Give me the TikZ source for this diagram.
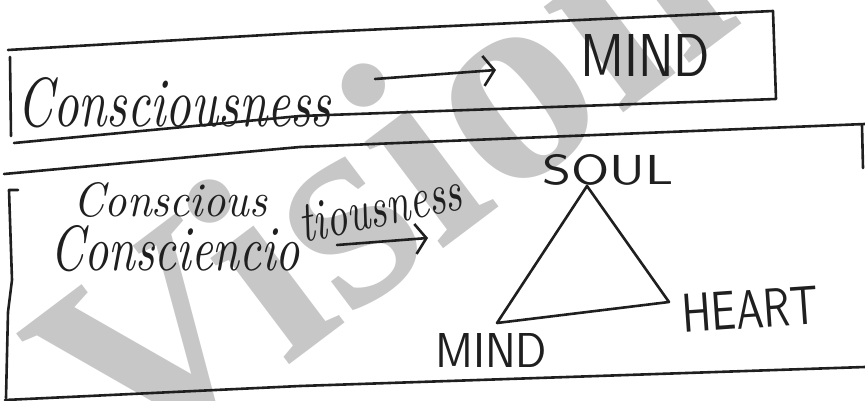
\documentclass[tikz,border=0pt]{standalone}
\usepackage{fontspec}
\newfontfamily\markfont{Liberation Serif}
\usetikzlibrary{arrows.meta}
\newcommand{\handtext}[3]{\resizebox{#1pt}{#2pt}{#3}}

\begin{document}
\begin{tikzpicture}[
    x=1pt, y=-1pt,
    ink/.style={line width=2.6pt, draw=black!88, line cap=round, line join=round},
    inkarrow/.style={ink, -{Straight Barb[length=11pt, width=30pt, line width=2.6pt]}},
    cursive/.style={inner sep=0pt, font=\itshape, text=black!88},
    capsword/.style={inner sep=0pt, font=\sffamily, text=black!88},
    watermark/.style={inner sep=0pt, text=black!22, font=\markfont\bfseries\fontsize{288}{300}\selectfont}
]
\useasboundingbox (0,0) rectangle (865,401);
\clip (0,0) rectangle (865,401);

% watermark
\node[watermark, anchor=base west, rotate=37] (mark) at (127,487) {Vision};

% upper box
\draw[ink] (8,50) -- (300,33) -- (773,11) -- (776,99) -- (300,116) -- (14,143);
\draw[ink] (10,57) -- (11,136);
\node[cursive, anchor=base west] (consA) at (17,127) {\handtext{314}{49}{Consciousness}};
\node[capsword, anchor=base west] (mindA) at (580,77) {\handtext{130}{42}{MIND}};
\coordinate (arrAstart) at (375,79);
\coordinate (arrAend) at (496,70);
\draw[inkarrow] (arrAstart) -- (arrAend);

% lower box
\draw[ink] (4,174) -- (300,147) -- (865,124);
\draw[ink] (862,125) -- (863,168);
\draw[ink] (18,190) -- (9,190) -- (12,280) -- (8,312) -- (6,398);
\draw[ink] (5,400) -- (300,386) -- (865,367);

\node[cursive, anchor=base west] (consB) at (73,216) {\handtext{194}{34}{Conscious}};
\node[cursive, anchor=base west] (consC) at (50,270) {\handtext{250}{45}{Consciencio}};
\node[cursive, anchor=base west, rotate=12] (consD) at (303,243) {\handtext{165}{38}{tiousness}};
\coordinate (arrBstart) at (337,245);
\coordinate (arrBend) at (428,238);
\draw[inkarrow] (arrBstart) -- (arrBend);

% triangle
\coordinate (apex) at (587,186);
\coordinate (cornerL) at (497,323);
\coordinate (cornerR) at (669,302);
\draw[ink] (cornerL) -- (apex) -- (cornerR) -- cycle;
\node[capsword, anchor=base west] (soul) at (542,184) {\handtext{131}{30}{SOUL}};
\node[capsword, anchor=base west] (mindB) at (435,367) {\handtext{112}{34}{MIND}};
\node[capsword, anchor=base west, rotate=4] (heart) at (683,333) {\handtext{137}{38}{HEART}};
\end{tikzpicture}
\end{document}
